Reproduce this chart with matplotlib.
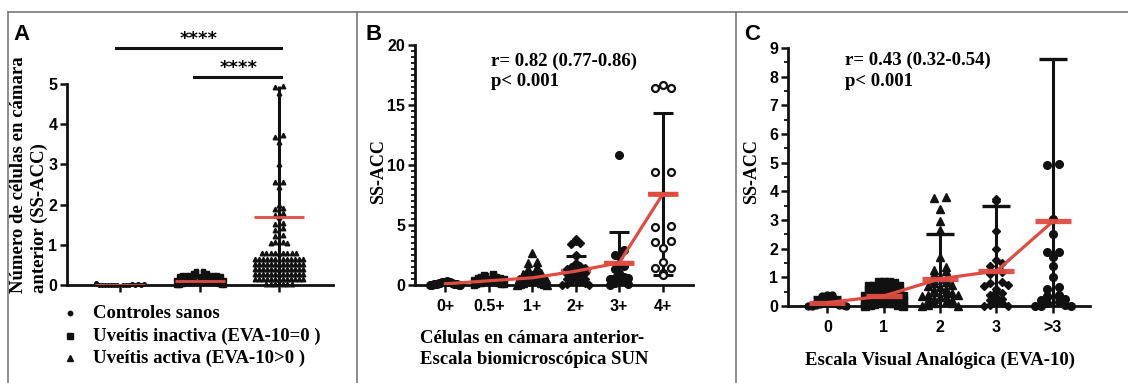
import numpy as np
import matplotlib
matplotlib.use('Agg')
import matplotlib.pyplot as plt
from matplotlib.lines import Line2D
from matplotlib import font_manager

# ---------------- data ----------------
# Panel A
a_legend = ['Controles sanos', 'Uveítis inactiva (EVA-10=0 )', 'Uveítis activa (EVA-10>0 )']
a_controls = [0.0, 0.0, 0.0, 0.01, 0.01, 0.0, 0.02, 0.0, 0.01, 0.0, 0.03, 0.0, 0.01, 0.0, 0.02, 0.05]
a_inactive = [0.35, 0.34, 0.33, 0.32, 0.3, 0.3,
              0.26, 0.26, 0.25, 0.25, 0.24, 0.24, 0.23, 0.23, 0.22, 0.22, 0.21, 0.21, 0.2, 0.2,
              0.17, 0.17, 0.16, 0.16, 0.15, 0.15, 0.14, 0.14, 0.13, 0.13, 0.12, 0.12, 0.11, 0.11,
              0.08, 0.08, 0.07, 0.07, 0.06, 0.06, 0.05, 0.05, 0.05, 0.04, 0.04, 0.04,
              0.02, 0.02, 0.01, 0.01, 0.0, 0.0, 0.0]
a_active = [4.95, 4.92, 4.78, 3.72, 3.68, 3.55, 3.0, 2.55, 2.55, 2.45, 2.0, 1.92, 1.88,
            1.78, 1.75, 1.68, 1.55, 1.52, 1.42, 1.38, 1.24, 1.22, 1.07, 1.06, 1.05, 1.04,
            0.8, 0.8, 0.8, 0.8, 0.8, 0.8, 0.8, 0.8, 0.8,
            0.64, 0.64, 0.64, 0.64, 0.64, 0.64, 0.64, 0.64, 0.64, 0.64, 0.64, 0.64,
            0.52, 0.52, 0.52, 0.52, 0.52, 0.52, 0.52, 0.52, 0.52, 0.52, 0.52, 0.52, 0.52,
            0.39, 0.39, 0.39, 0.39, 0.39, 0.39, 0.39, 0.39, 0.39, 0.39, 0.39, 0.39, 0.39,
            0.27, 0.27, 0.27, 0.27, 0.27, 0.27, 0.27, 0.27, 0.27, 0.27, 0.27, 0.27, 0.27,
            0.15, 0.15, 0.15, 0.15, 0.15, 0.15, 0.15, 0.15, 0.15, 0.15, 0.15, 0.15, 0.15,
            0.03, 0.03, 0.03, 0.03, 0.03, 0.03]
a_means = [0.01, 0.1, 1.7]
a_active_range = [0.0, 4.95]
a_yticks = [0, 1, 2, 3, 4, 5]
a_sig = ['****', '****']

# Panel B
b_categories = ['0+', '0.5+', '1+', '2+', '3+', '4+']
b_g0 = [0.3, 0.28, 0.25, 0.25, 0.22, 0.2, 0.18, 0.15, 0.12, 0.1, 0.1, 0.08, 0.05, 0.05, 0.02, 0.0, 0.0, 0.0]
b_g05 = [0.9, 0.85, 0.8, 0.75, 0.7, 0.65, 0.6, 0.55, 0.5, 0.45, 0.4, 0.35, 0.3, 0.3, 0.25, 0.2, 0.2,
         0.15, 0.1, 0.1, 0.05, 0.0]
b_g1 = [2.7, 1.9, 1.8, 1.5, 1.35, 1.2, 1.1, 1.0, 0.9, 0.8, 0.7, 0.7, 0.6, 0.6, 0.5, 0.5, 0.4, 0.4,
        0.3, 0.3, 0.2, 0.2, 0.1, 0.1, 0.0, 0.0]
b_g2 = [3.8, 3.7, 3.5, 3.4, 2.5, 2.4, 1.8, 1.6, 1.5, 1.4, 1.3, 1.2, 1.1, 1.0, 0.9, 0.8, 0.7, 0.6,
        0.5, 0.5, 0.4, 0.3, 0.3, 0.2, 0.1, 0.0, 0.0]
b_g3 = [10.8, 2.9, 2.5, 2.4, 1.7, 1.6, 1.3, 1.0, 0.7, 0.6, 0.6, 0.5, 0.4, 0.3, 0.2, 0.1, 0.0]
b_g4 = [16.7, 16.4, 16.4, 9.45, 9.45, 4.9, 4.85, 3.65, 3.6, 3.05, 1.95, 1.4, 1.4, 1.0, 0.8]
b_means = [0.1, 0.35, 0.6, 1.15, 1.85, 7.55]
b_err_low = [0.0, 0.05, 0.0, 0.0, 0.0, 0.85]
b_err_high = [0.25, 0.65, 1.1, 2.4, 4.4, 14.3]
b_yticks = [0, 5, 10, 15, 20]
b_stats = 'r= 0.82 (0.77-0.86)\np< 0.001'

# Panel C
c_categories = ['0', '1', '2', '3', '>3']
c_g0 = [0.4, 0.38, 0.35, 0.3, 0.3, 0.25, 0.2, 0.18, 0.15, 0.12, 0.1, 0.1, 0.08, 0.05, 0.05, 0.03,
        0.0, 0.0, 0.0]
c_g1 = [0.85, 0.85, 0.85, 0.8, 0.7, 0.7, 0.7, 0.68, 0.65, 0.65, 0.62, 0.6, 0.55, 0.55, 0.52, 0.5,
        0.5, 0.48, 0.45, 0.42, 0.4, 0.4, 0.38, 0.35, 0.35, 0.3, 0.3, 0.28, 0.25, 0.22, 0.2, 0.2,
        0.18, 0.15, 0.12, 0.1, 0.1, 0.08, 0.05, 0.02, 0.0, 0.0]
c_g2 = [3.8, 3.78, 3.4, 2.95, 2.65, 1.7, 1.37, 1.25, 1.22, 1.1, 1.0, 0.95, 0.9, 0.85, 0.8, 0.75,
        0.7, 0.65, 0.6, 0.55, 0.5, 0.5, 0.45, 0.4, 0.4, 0.35, 0.3, 0.3, 0.25, 0.2, 0.2, 0.15,
        0.1, 0.1, 0.05, 0.0, 0.0]
c_g3 = [3.72, 3.65, 2.6, 2.0, 1.6, 1.5, 1.4, 1.2, 1.1, 0.85, 0.8, 0.75, 0.7, 0.6, 0.5, 0.45, 0.4,
        0.3, 0.25, 0.2, 0.15, 0.1, 0.05, 0.0, 0.0]
c_g4 = [4.95, 4.92, 3.05, 2.5, 1.9, 1.88, 1.7, 1.4, 1.0, 0.68, 0.6, 0.4, 0.35, 0.32, 0.3, 0.25,
        0.2, 0.15, 0.1, 0.05, 0.0, 0.0, 0.0]
c_means = [0.12, 0.35, 0.95, 1.22, 2.95]
c_err_low = [0.0, 0.05, 0.0, 0.0, 0.0]
c_err_high = [0.3, 0.6, 2.5, 3.5, 8.6]
c_yticks = [0, 1, 2, 3, 4, 5, 6, 7, 8, 9]
c_stats = 'r= 0.43 (0.32-0.54)\np< 0.001'

# ---------------- style ----------------
W, H, DPI = 1128, 383, 100
RED = '#de4c42'
BLK = '#111111'
avail = {f.name for f in font_manager.fontManager.ttflist}
NARROW = 'Liberation Sans Narrow' if 'Liberation Sans Narrow' in avail else 'Liberation Sans'
TICKSIZE = 13 if NARROW == 'Liberation Sans Narrow' else 11.5
SERIF = 'Liberation Serif'

fig = plt.figure(figsize=(W / DPI, H / DPI), dpi=DPI)
fig.patch.set_facecolor('white')


def fx(x):
    return x / W


def fy(y):
    return 1 - y / H


def make_axes(l, t, r, b):
    return fig.add_axes([fx(l), fy(b), fx(r) - fx(l), fy(t) - fy(b)])


def style_axes(ax):
    for s in ['top', 'right']:
        ax.spines[s].set_visible(False)
    for s in ['left', 'bottom']:
        ax.spines[s].set_linewidth(2.0)
        ax.spines[s].set_color(BLK)
    ax.tick_params(axis='both', which='major', width=1.8, length=5, color=BLK,
                   labelsize=TICKSIZE, pad=2)
    ax.tick_params(axis='x', which='major', pad=5)
    ax.tick_params(axis='y', which='minor', width=1.3, length=3, color=BLK)
    for lab in ax.get_xticklabels() + ax.get_yticklabels():
        lab.set_fontfamily(NARROW)
        lab.set_fontweight('bold')


def spread(ax, x0, values, bin_px, step_px, max_hw_px):
    vals = np.asarray(values, float)
    bb = ax.get_position()
    wpx = bb.width * W
    hpx = bb.height * H
    xl = ax.get_xlim()
    yl = ax.get_ylim()
    xpu = wpx / (xl[1] - xl[0])
    ypu = hpx / (yl[1] - yl[0])
    bins = np.floor((vals - yl[0]) * ypu / bin_px).astype(int)
    offs = np.zeros(len(vals))
    for b in np.unique(bins):
        idx = np.where(bins == b)[0]
        m = len(idx)
        if m % 2 == 1:
            ks = [0] + [s * k for k in range(1, m // 2 + 1) for s in (1, -1)]
        else:
            ks = [s * k for k in range(1, m // 2 + 1) for s in (1, -1)]
        ks = np.array(ks[:m], float)
        half = np.max(np.abs(ks)) if m > 1 else 1
        step = step_px
        if half * step > max_hw_px:
            step = max_hw_px / half
        offs[idx] = ks * step / xpu
    return x0 + offs


def px2dx(ax, px):
    bb = ax.get_position()
    xl = ax.get_xlim()
    return px / (bb.width * W) * (xl[1] - xl[0])

# ---------------- Panel A ----------------
axA = make_axes(67, 84, 333, 285)
axA.set_xlim(-0.67, 2.68)
axA.set_ylim(0, 5)
axA.set_xticks([0, 1, 2])
axA.set_xticklabels(['', '', ''])
axA.set_yticks(a_yticks)
style_axes(axA)

a_sets = [(a_controls, 'o', 2.6, 3.0), (a_inactive, 's', 3.0, 3.5), (a_active, '^', 3.3, 4.2)]
for i, (vals, mk, ms, stp) in enumerate(a_sets):
    xs = spread(axA, i, vals, 4.5 if i < 2 else 5, stp, 24)
    axA.plot(xs, vals, ls='none', marker=mk, ms=ms, color=BLK, mec=BLK, clip_on=False, zorder=4)
axA.vlines(2, a_active_range[0], a_active_range[1], color=BLK, lw=2.2, zorder=3)
hw = px2dx(axA, 25)
for i, m in enumerate(a_means):
    axA.hlines(m, i - hw, i + hw, color=RED, lw=2.0, zorder=5)

# significance bars (data coords above axis)
axA.plot([-0.05, 2.03], [5.9, 5.9], color=BLK, lw=2.2, clip_on=False)
axA.plot([0.93, 2.03], [5.17, 5.17], color=BLK, lw=2.2, clip_on=False)
axA.text(0.99, 6.12, a_sig[0], ha='center', va='center', fontsize=13, fontweight='bold',
         family='DejaVu Sans', clip_on=False)
axA.text(1.49, 5.40, a_sig[1], ha='center', va='center', fontsize=13, fontweight='bold',
         family='DejaVu Sans', clip_on=False)

fig.text(fx(29), fy(293), 'Número de células en cámara\nanterior (SS-ACC)', rotation=90,
         ha='center', va='bottom', multialignment='left', fontsize=13.5, fontweight='bold',
         family=SERIF, linespacing=1.25)

# legend
leg_markers = ['o', 's', '^']
leg_ms = [3.2, 4.0, 4.2]
for j, (lab, mk, ms) in enumerate(zip(a_legend, leg_markers, leg_ms)):
    y = [313, 336, 358][j]
    fig.lines.append(Line2D([fx(70)], [fy(y)], marker=mk, ms=ms, color=BLK, ls='none',
                            transform=fig.transFigure))
    fig.text(fx(93), fy(y), lab, ha='left', va='center', fontsize=13.5, fontweight='bold',
             family=SERIF)

# ---------------- Panel B ----------------
axB = make_axes(415, 45, 693, 285)
axB.set_xlim(-0.7, 5.7)
axB.set_ylim(0, 20)
axB.set_xticks(range(len(b_categories)))
axB.set_xticklabels(b_categories)
axB.set_yticks(b_yticks)
axB.set_yticks(np.arange(0, 20.01, 0.5), minor=True)
style_axes(axB)

b_sets = [(b_g0, 'o', 5.5, 'f'), (b_g05, 's', 5.0, 'f'), (b_g1, '^', 5.5, 'f'),
          (b_g2, 'D', 4.2, 'f'), (b_g3, 'o', 5.5, 'f'), (b_g4, 'o', 5.0, 'open')]
bx = np.arange(len(b_categories))
for i in range(len(b_categories)):
    axB.errorbar(i, b_means[i], yerr=[[b_means[i] - b_err_low[i]], [b_err_high[i] - b_means[i]]],
                 fmt='none', ecolor=BLK, elinewidth=2.2, capsize=7, capthick=2.2, zorder=3)
hwB = px2dx(axB, 15)
for i, m in enumerate(b_means):
    axB.hlines(m, i - hwB, i + hwB, color=RED, lw=3.2, zorder=2)
axB.plot(bx, b_means, color=RED, lw=2.3, zorder=5)
for i, (vals, mk, ms, fill) in enumerate(b_sets):
    xs = spread(axB, i, vals, 5, 8 if fill == 'open' else 4.5, 15)
    if fill == 'open':
        axB.plot(xs, vals, ls='none', marker=mk, ms=ms, mfc='white', mec=BLK, mew=1.6,
                 clip_on=False, zorder=4)
    else:
        axB.plot(xs, vals, ls='none', marker=mk, ms=ms, color=BLK, clip_on=False, zorder=4)
for i in [4, 5]:
    axB.hlines(b_means[i], i - hwB, i + hwB, color=RED, lw=3.4, zorder=6)

axB.text(0.275, 0.97, b_stats, transform=axB.transAxes, ha='left', va='top', fontsize=13.5,
         fontweight='bold', family=SERIF, linespacing=1.3)
fig.text(fx(379), fy(172), 'SS-ACC', rotation=90, ha='center', va='center', fontsize=13,
         fontweight='bold', family=SERIF)
fig.text(fx(420), fy(349), 'Células en cámara anterior-\nEscala biomicroscópica SUN',
         ha='left', va='center', multialignment='left', fontsize=13.5, fontweight='bold',
         family=SERIF, linespacing=1.3)

# ---------------- Panel C ----------------
axC = make_axes(788, 48, 1090, 306)
axC.set_xlim(-0.7, 4.66)
axC.set_ylim(0, 9)
axC.set_xticks(range(len(c_categories)))
axC.set_xticklabels(c_categories)
axC.set_yticks(c_yticks)
axC.set_yticks(np.arange(0, 9.01, 0.5), minor=True)
style_axes(axC)

c_sets = [(c_g0, 'o', 5.0), (c_g1, 's', 5.2), (c_g2, '^', 5.5), (c_g3, 'D', 4.2), (c_g4, 'o', 5.5)]
cx = np.arange(len(c_categories))
for i in range(len(c_categories)):
    axC.errorbar(i, c_means[i], yerr=[[c_means[i] - c_err_low[i]], [c_err_high[i] - c_means[i]]],
                 fmt='none', ecolor=BLK, elinewidth=2.2, capsize=10, capthick=2.4, zorder=3)
for i, (vals, mk, ms) in enumerate(c_sets):
    xs = spread(axC, i, vals, 5, 6 if i >= 2 else 5, 19)
    axC.plot(xs, vals, ls='none', marker=mk, ms=ms, color=BLK, clip_on=False, zorder=4)
hwC = px2dx(axC, 18)
for i, m in enumerate(c_means):
    axC.hlines(m, i - hwC, i + hwC, color=RED, lw=3.8, zorder=6, alpha=0.95)
axC.plot(cx, c_means, color=RED, lw=2.3, zorder=6)

axC.text(0.19, 0.985, c_stats, transform=axC.transAxes, ha='left', va='top', fontsize=13.5,
         fontweight='bold', family=SERIF, linespacing=1.3)
fig.text(fx(752), fy(172), 'SS-ACC', rotation=90, ha='center', va='center', fontsize=13,
         fontweight='bold', family=SERIF)
fig.text(fx(940), fy(360), 'Escala Visual Analógica (EVA-10)', ha='center', va='center',
         fontsize=13.5, fontweight='bold', family=SERIF)

# ---------------- panel letters & frame ----------------
for lab, x in [('A', 22), ('B', 374), ('C', 752)]:
    fig.text(fx(x), fy(35), lab, ha='center', va='center', fontsize=16, fontweight='bold',
             family=NARROW)

GR = '#6e6e6e'
for (x0, y0, x1, y1) in [(8, 12, 1128, 12), (8, 12, 8, 383), (357, 12, 357, 383), (736, 12, 736, 383)]:
    fig.lines.append(Line2D([fx(x0), fx(x1)], [fy(y0), fy(y1)], color=GR, lw=1.1,
                            transform=fig.transFigure))

fig.savefig('out.png', dpi=DPI, facecolor='white')
